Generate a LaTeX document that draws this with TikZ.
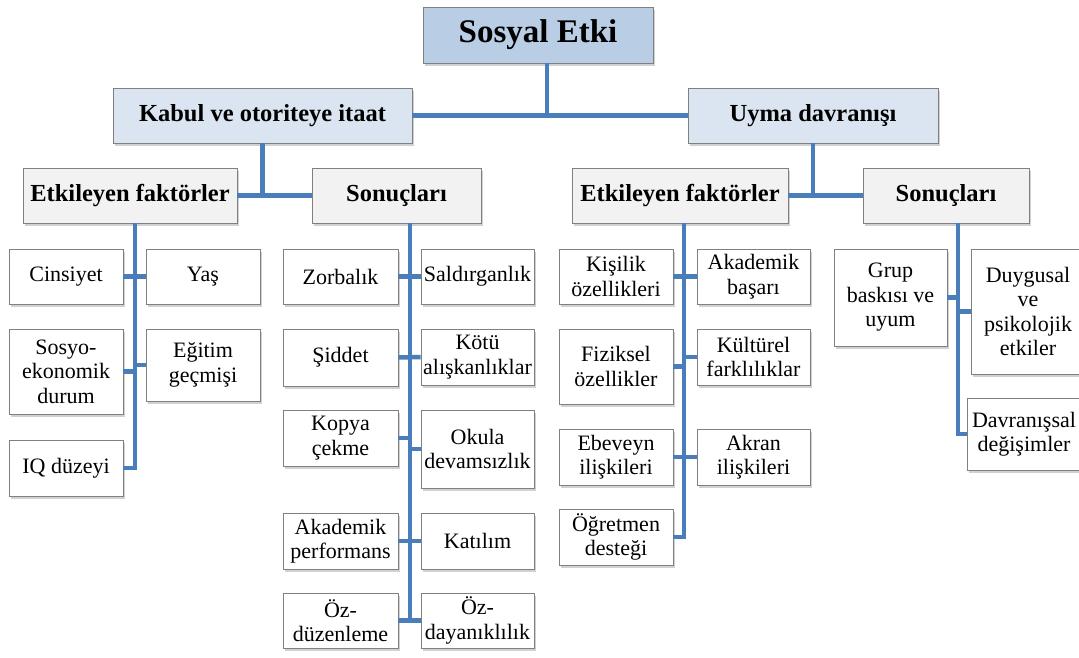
\documentclass[tikz,border=0pt]{standalone}
\usepackage{fontspec}
\setmainfont{Liberation Serif}
\usetikzlibrary{shadows}
\definecolor{topblue}{RGB}{185,205,229}
\definecolor{midblue}{RGB}{219,229,241}
\definecolor{lgray}{RGB}{242,242,242}
\definecolor{conncol}{RGB}{74,126,187}
\definecolor{bordcol}{RGB}{128,128,128}
\tikzset{
  box/.style={draw=bordcol, line width=0.8pt, inner sep=0pt, align=center,
    drop shadow={shadow xshift=2pt, shadow yshift=-3pt, fill=black!40, opacity=0.45}},
  topbox/.style={box, fill=topblue, font=\bfseries\fontsize{33}{36}\selectfont},
  midbox/.style={box, fill=midblue, font=\bfseries\fontsize{24.5}{28}\selectfont},
  lvlbox/.style={box, fill=lgray, font=\bfseries\fontsize{24.5}{28}\selectfont},
  leaf/.style={box, fill=white, font=\fontsize{22}{24.5}\selectfont},
  conn/.style={draw=conncol, line width=4.5pt, line join=miter}
}
\begin{document}
\begin{tikzpicture}[x=1pt,y=-1pt]
\useasboundingbox (0,0) rectangle (1079,657);
% levels 1-3
\node[topbox, minimum width=230, minimum height=56] (se) at (538,35) {Sosyal Etki};
\node[midbox, minimum width=299, minimum height=55] (kab) at (262.5,115.5) {Kabul ve otoriteye itaat};
\node[midbox, minimum width=250, minimum height=55] (uy) at (813,115.5) {Uyma davranışı};
\node[lvlbox, minimum width=214, minimum height=55] (efL) at (130,195.5) {Etkileyen faktörler};
\node[lvlbox, minimum width=169, minimum height=55] (sonL) at (396.5,195.5) {Sonuçları};
\node[lvlbox, minimum width=216, minimum height=55] (efR) at (680,195.5) {Etkileyen faktörler};
\node[lvlbox, minimum width=166, minimum height=55] (sonR) at (946,195.5) {Sonuçları};
% leaves group 1
\node[leaf, minimum width=114, minimum height=55] (cins) at (66,276.5) {Cinsiyet};
\node[leaf, minimum width=114, minimum height=55] (yas) at (203,276.5) {Yaş};
\node[leaf, minimum width=114, minimum height=85] (sosyo) at (66,371.5) {Sosyo-\\ekonomik\\durum};
\node[leaf, minimum width=114, minimum height=72] (egit) at (203,365) {Eğitim\\geçmişi};
\node[leaf, minimum width=114, minimum height=56] (iq) at (66,468) {IQ düzeyi};
% leaves group 2
\node[leaf, minimum width=115, minimum height=55] (zorb) at (340.5,276.5) {Zorbalık};
\node[leaf, minimum width=113, minimum height=55] (sald) at (477.5,276.5) {Saldırganlık};
\node[leaf, minimum width=115, minimum height=57] (sidd) at (340.5,357.5) {Şiddet};
\node[leaf, minimum width=113, minimum height=56] (kotu) at (477.5,357) {Kötü\\alışkanlıklar};
\node[leaf, minimum width=115, minimum height=56] (kopya) at (340.5,438) {Kopya\\çekme};
\node[leaf, minimum width=113, minimum height=78] (okula) at (477.5,449) {Okula\\devamsızlık};
\node[leaf, minimum width=115, minimum height=56] (akper) at (340.5,541) {Akademik\\performans};
\node[leaf, minimum width=113, minimum height=56] (katil) at (477.5,541) {Katılım};
\node[leaf, minimum width=115, minimum height=55] (ozd) at (340.5,620.5) {Öz-\\düzenleme};
\node[leaf, minimum width=113, minimum height=55] (ozdy) at (477.5,620.5) {Öz-\\dayanıklılık};
% leaves group 3
\node[leaf, minimum width=114, minimum height=55] (kisi) at (616,276.5) {Kişilik\\özellikleri};
\node[leaf, minimum width=113, minimum height=55] (akbas) at (753.5,276.5) {Akademik\\başarı};
\node[leaf, minimum width=114, minimum height=75] (fiz) at (616,366.5) {Fiziksel\\özellikler};
\node[leaf, minimum width=113, minimum height=56] (kult) at (753.5,357) {Kültürel\\farklılıklar};
\node[leaf, minimum width=114, minimum height=56] (ebev) at (616,457) {Ebeveyn\\ilişkileri};
\node[leaf, minimum width=113, minimum height=56] (akran) at (753.5,457) {Akran\\ilişkileri};
\node[leaf, minimum width=114, minimum height=56] (ogret) at (616,537) {Öğretmen\\desteği};
% leaves group 4
\node[leaf, minimum width=113, minimum height=97] (grup) at (890.5,297.5) {Grup\\baskısı ve\\uyum};
\node[leaf, minimum width=114, minimum height=125] (duyg) at (1028,311.5) {Duygusal\\ve\\psikolojik\\etkiler};
\node[leaf, minimum width=114, minimum height=72] (davr) at (1024,434) {Davranışsal\\değişimler};
% trunk coordinates
\coordinate (tS) at ([xshift=9]se.south);
\coordinate (t1) at ([xshift=5]efL.south);
\coordinate (t2) at ([xshift=13.5]sonL.south);
\coordinate (t3) at ([xshift=4]efR.south);
\coordinate (t4) at ([xshift=12]sonR.south);
% upper connectors
\draw[conn] (tS) -- (tS |- kab.east);
\draw[conn] (kab.east) -- (uy.west);
\draw[conn] (kab.south) -- (kab.south |- efL.east);
\draw[conn] (efL.east) -- (sonL.west);
\draw[conn] (uy.south) -- (uy.south |- efR.east);
\draw[conn] (efR.east) -- (sonR.west);
% group 1
\draw[conn] (t1) |- (iq.east);
\draw[conn] (cins.east) -- (yas.west);
\draw[conn] (sosyo.east) -- (sosyo.east -| t1);
\draw[conn] (egit.west) -- (egit.west -| t1);
% group 2
\draw[conn] (t2) -- (t2 |- ozd.east);
\draw[conn] (zorb.east) -- (sald.west);
\draw[conn] (sidd.east) -- (kotu.west);
\draw[conn] (kopya.east) -- (kopya.east -| t2);
\draw[conn] (okula.west) -- (okula.west -| t2);
\draw[conn] (akper.east) -- (katil.west);
\draw[conn] (ozd.east) -- (ozdy.west);
% group 3
\draw[conn] (t3) |- (ogret.east);
\draw[conn] (kisi.east) -- (akbas.west);
\draw[conn] (fiz.east) -- (fiz.east -| t3);
\draw[conn] (kult.west) -- (kult.west -| t3);
\draw[conn] (ebev.east) -- (akran.west);
% group 4
\draw[conn] (t4) |- (davr.west);
\draw[conn] (grup.east) -- (grup.east -| t4);
\draw[conn] (duyg.west) -- (duyg.west -| t4);
\end{tikzpicture}
\end{document}
